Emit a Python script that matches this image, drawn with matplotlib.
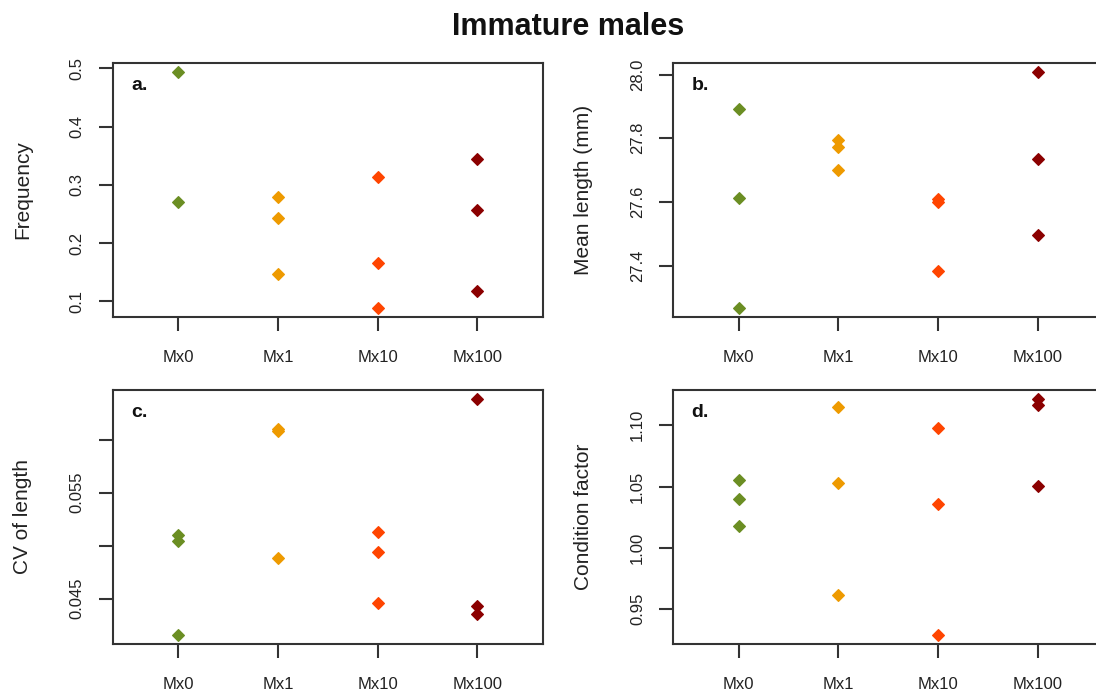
import matplotlib
matplotlib.use('Agg')
import matplotlib.pyplot as plt

plt.rcParams['font.family'] = ['Liberation Sans', 'DejaVu Sans']

# treatment groups and their colours
groups = ['Mx0', 'Mx1', 'Mx10', 'Mx100']
group_colors = ['#6B8E23', '#EE9A00', '#FF4500', '#8B0000']

# values per group (one list per treatment)
frequency = [[0.493, 0.271], [0.279, 0.243, 0.146], [0.314, 0.166, 0.089], [0.345, 0.256, 0.118]]
mean_length = [[27.893, 27.612, 27.268], [27.794, 27.772, 27.700], [27.609, 27.600, 27.382], [28.007, 27.736, 27.497]]
cv_length = [[0.0510, 0.0504, 0.0416], [0.0610, 0.0608, 0.0488], [0.0513, 0.0494, 0.0446], [0.0638, 0.0443, 0.0435]]
condition = [[1.0557, 1.0397, 1.0179], [1.1152, 1.0533, 0.9614], [1.0976, 1.0356, 0.9291], [1.1212, 1.1166, 1.0503]]

# y ticks and labels of each panel
freq_ticks = [0.1, 0.2, 0.3, 0.4, 0.5]
freq_labels = ['0.1', '0.2', '0.3', '0.4', '0.5']
len_ticks = [27.4, 27.6, 27.8, 28.0]
len_labels = ['27.4', '27.6', '27.8', '28.0']
cv_ticks = [0.045, 0.050, 0.055, 0.060]
cv_labels = ['0.045', '', '0.055', '']
cond_ticks = [0.95, 1.00, 1.05, 1.10]
cond_labels = ['0.95', '1.00', '1.05', '1.10']

panels = [
    ('a.', frequency, 'Frequency', freq_ticks, freq_labels),
    ('b.', mean_length, 'Mean length (mm)', len_ticks, len_labels),
    ('c.', cv_length, 'CV of length', cv_ticks, cv_labels),
    ('d.', condition, 'Condition factor', cond_ticks, cond_labels),
]

W, H = 1096, 694
fig = plt.figure(figsize=(W / 100, H / 100), dpi=100)

# box positions in pixels (left, top); right column runs past the image edge
box_w, box_h = 430.5, 254
origins = [(112.5, 63), (673, 63), (112.5, 390), (673, 390)]
line_col = '#333333'

for (tag, values, ylab, ticks, labels), (x0, y0) in zip(panels, origins):
    ax = fig.add_axes([x0 / W, 1 - (y0 + box_h) / H, box_w / W, box_h / H])
    for i, (vals, col) in enumerate(zip(values, group_colors)):
        ax.plot([i + 1] * len(vals), vals, linestyle='none', marker='D',
                markersize=5.8, color=col, markeredgewidth=0.8, markeredgecolor=col)

    ax.set_xlim(0.5 - 0.16, 4.5 + 0.16)
    ax.margins(y=0.04)
    ax.set_xticks([1, 2, 3, 4])
    ax.set_xticklabels(groups)
    ax.set_yticks(ticks)
    ax.set_yticklabels(labels)

    for s in ax.spines.values():
        s.set_linewidth(1.5)
        s.set_color(line_col)
    ax.tick_params(axis='both', color=line_col, width=1.5, length=10,
                   labelsize=12, labelcolor='#222222')
    ax.tick_params(axis='x', pad=14)
    ax.tick_params(axis='y', pad=10, labelrotation=90)
    for lb in ax.get_yticklabels():
        lb.set_verticalalignment('center')

    ax.set_ylabel(ylab, fontsize=15, color='#222222')
    ax.yaxis.set_label_coords(-89.5 / box_w, 0.5)
    ax.yaxis.label.set_verticalalignment('center')

    ax.text(0.043, 0.894, tag, transform=ax.transAxes, fontsize=14,
            fontweight='bold', color='#111111', va='baseline')

fig.text(0.518, 1 - 27 / H, 'Immature males', ha='center', va='center',
         fontsize=22, fontweight='bold', color='#111111')

fig.savefig('out.png', dpi=100)
plt.close()
